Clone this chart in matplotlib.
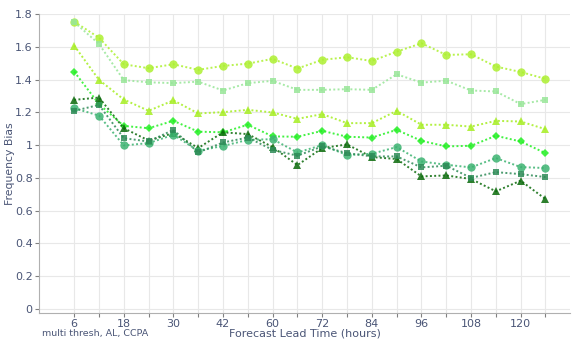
import matplotlib.pyplot as plt
import numpy as np

# forecast lead times (hours); x axis is categorical, every other one labelled
lead = [6, 12, 18, 24, 30, 36, 42, 48, 60, 66, 72, 78, 84, 90, 96, 102, 108, 114, 120, 126]

s1 = [1.753, 1.655, 1.493, 1.469, 1.493, 1.459, 1.483, 1.497, 1.526, 1.467,
      1.520, 1.536, 1.513, 1.570, 1.621, 1.550, 1.554, 1.479, 1.446, 1.404]
s2 = [1.750, 1.617, 1.396, 1.383, 1.378, 1.387, 1.333, 1.378, 1.392, 1.337,
      1.337, 1.341, 1.337, 1.432, 1.381, 1.393, 1.333, 1.327, 1.250, 1.276]
s3 = [1.607, 1.398, 1.278, 1.209, 1.273, 1.193, 1.201, 1.215, 1.199, 1.160,
      1.189, 1.134, 1.134, 1.209, 1.124, 1.124, 1.113, 1.148, 1.144, 1.097]
s4 = [1.448, 1.250, 1.117, 1.103, 1.148, 1.082, 1.078, 1.124, 1.053, 1.051,
      1.087, 1.051, 1.046, 1.093, 1.026, 0.992, 0.996, 1.057, 1.022, 0.951]
s5 = [1.276, 1.290, 1.103, 1.028, 1.073, 0.982, 1.078, 1.067, 0.988, 0.878,
      0.982, 1.004, 0.927, 0.915, 0.809, 0.815, 0.793, 0.718, 0.783, 0.671]
s6 = [1.225, 1.180, 0.998, 1.012, 1.063, 0.965, 0.995, 1.032, 1.036, 0.955,
      1.000, 0.939, 0.947, 0.988, 0.900, 0.880, 0.864, 0.921, 0.866, 0.860]
s7 = [1.209, 1.245, 1.042, 1.022, 1.093, 0.955, 1.016, 1.046, 0.971, 0.935,
      0.992, 0.951, 0.931, 0.931, 0.864, 0.874, 0.800, 0.835, 0.823, 0.805]

series = [
    (s1, '#adf030', 'o', 6.0),
    (s2, '#98e698', 's', 4.8),
    (s3, '#a6ee22', '^', 5.5),
    (s4, '#22f022', 'D', 4.0),
    (s5, '#0a6a0a', '^', 5.5),
    (s6, '#3cb371', 'o', 6.0),
    (s7, '#2e8b57', 's', 4.8),
]

txt = '#4a5576'

fig = plt.figure(figsize=(5.72, 3.4), dpi=100)
ax = fig.add_axes([0.069, 0.079, 0.928, 0.880])

x = np.arange(len(lead))
for y, c, m, ms in series:
    ax.plot(x, y, color=c, marker=m, markersize=ms, markeredgewidth=0,
            linestyle=(0, (1, 1.2)), linewidth=1.4, alpha=0.85)

ax.set_xlim(-1.4, 20.0)
ax.set_ylim(-0.025, 1.8)
ax.set_xticks(x)
ax.set_xticklabels([str(v) if i % 2 == 0 else '' for i, v in enumerate(lead)])
yt = np.arange(0, 1.81, 0.2)
ax.set_yticks(yt)
ax.set_yticklabels(['%g' % round(v, 1) for v in yt])

ax.grid(True, color='#e8e8e8', linewidth=0.8)
ax.set_axisbelow(True)
for s in ['top', 'right']:
    ax.spines[s].set_visible(False)
for s in ['left', 'bottom']:
    ax.spines[s].set_color('#b0b0b0')
ax.tick_params(axis='both', colors='#808080', labelcolor=txt, labelsize=8, length=3, width=0.8)
ax.tick_params(axis='x', pad=1)
ax.tick_params(axis='y', pad=2)

fig.text(0.017, 0.52, 'Frequency Bias', rotation=90, ha='center', va='center',
         fontsize=7.8, color=txt)
fig.text(0.533, 0.003, 'Forecast Lead Time (hours)', ha='center', va='bottom',
         fontsize=8, color=txt)
fig.text(0.166, 0.006, 'multi thresh, AL, CCPA', ha='center', va='bottom',
         fontsize=6.8, color=txt)

fig.savefig('out.png', dpi=100)
